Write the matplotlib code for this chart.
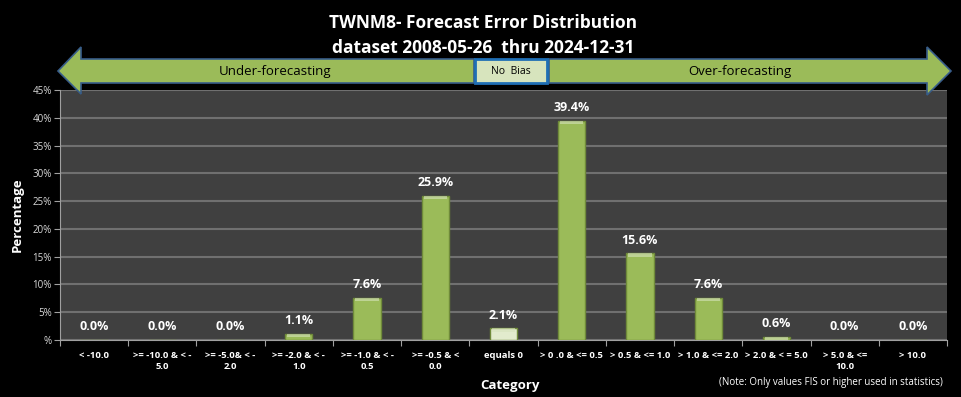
import matplotlib
matplotlib.use("Agg")
import matplotlib.pyplot as plt
from matplotlib.patches import Polygon, Rectangle

# Datos del grafico
categorias = ['< -10.0', '>= -10.0 & < -\n5.0', '>= -5.0& < -\n2.0', '>= -2.0 & < -\n1.0',
              '>= -1.0 & < -\n0.5', '>= -0.5 & <\n0.0', 'equals 0', '> 0 .0 & <= 0.5',
              '> 0.5 & <= 1.0', '> 1.0 & <= 2.0', '> 2.0 & < = 5.0', '> 5.0 & <=\n10.0', '> 10.0']
porcentajes = [0.0, 0.0, 0.0, 1.1, 7.6, 25.9, 2.1, 39.4, 15.6, 7.6, 0.6, 0.0, 0.0]
ticks_y = [0, 5, 10, 15, 20, 25, 30, 35, 40, 45]

W, H = 961, 397
plt.rcParams['font.family'] = ['Open Sans', 'DejaVu Sans']

fig = plt.figure(figsize=(W / 100, H / 100), dpi=100, facecolor='black')


def px(x, y):
    # pixeles -> coordenadas de figura
    return (x / W, 1 - y / H)


# Titulo
fig.text(*px(483, 23), 'TWNM8- Forecast Error Distribution', ha='center', va='center',
         color='white', fontsize=12.5, fontweight='bold')
fig.text(*px(483, 48), 'dataset 2008-05-26  thru 2024-12-31', ha='center', va='center',
         color='white', fontsize=12.5, fontweight='bold')

# Flechas de sesgo
verde = '#9BBB59'
borde = '#385D8A'
izq = [(474, 59), (81, 59), (81, 47), (58, 71), (81, 94), (81, 83), (474, 83)]
der = [(549, 59), (927, 59), (927, 47), (951, 71), (927, 95), (927, 83), (549, 83)]
for pts in (izq, der):
    fig.patches.append(Polygon([px(x, y) for x, y in pts], closed=True, transform=fig.transFigure,
                               facecolor=verde, edgecolor=borde, linewidth=1.2, zorder=1))
fig.patches.append(Rectangle(px(475, 83), 72 / W, 24 / H, transform=fig.transFigure,
                             facecolor='#D7E4BD', edgecolor='#1F6FB5', linewidth=2, zorder=2))
fig.text(*px(275, 72), 'Under-forecasting', ha='center', va='center', color='black', fontsize=9.5)
fig.text(*px(740, 72), 'Over-forecasting', ha='center', va='center', color='black', fontsize=9.5)
fig.text(*px(511, 71), 'No  Bias', ha='center', va='center', color='black', fontsize=7.5)

# Area del grafico
ax = fig.add_axes([60 / W, 1 - 340 / H, 887 / W, 250 / H])
ax.set_facecolor('#404040')
x = list(range(len(categorias)))
colores = [verde] * len(categorias)
colores[categorias.index('equals 0')] = '#E2EBCD'
barras = ax.bar(x, porcentajes, width=0.4, color=colores, edgecolor='#6F8A3A', linewidth=1, zorder=3)
# brillo superior tipo bisel
ax.bar(x, [min(v, 0.6) for v in porcentajes], bottom=[max(v - 0.6, 0) for v in porcentajes],
       width=0.34, color='#D7E4BD', alpha=0.6, linewidth=0, zorder=4)

for b, v in zip(barras, porcentajes):
    ax.annotate(f'{v:.1f}%', (b.get_x() + b.get_width() / 2, v), xytext=(0, 9.5),
                textcoords='offset points', ha='center', va='center', color='white',
                fontsize=9, fontweight='bold')

ax.set_xlim(-0.5, len(categorias) - 0.5)
ax.set_ylim(0, 45)
ax.set_yticks(ticks_y)
ax.set_yticklabels(['%' if t == 0 else f'{t}%' for t in ticks_y], color='#D9D9D9', fontsize=7)
ax.yaxis.grid(True, color='#707070', linewidth=1.5, zorder=0)
ax.set_axisbelow(True)

ax.set_xticks([i - 0.5 for i in range(len(categorias) + 1)])
ax.set_xticklabels([])
ax.set_xticks(x, minor=True)
ax.set_xticklabels(categorias, minor=True, color='white', fontsize=6.8, fontweight='bold')
ax.tick_params(axis='x', which='minor', length=0, pad=8)
ax.tick_params(axis='x', which='major', length=4, color='#A0A0A0')
ax.tick_params(axis='y', length=4, color='#A0A0A0', pad=2)

for lado in ('top', 'right'):
    ax.spines[lado].set_visible(False)
for lado in ('left', 'bottom'):
    ax.spines[lado].set_color('#A0A0A0')

fig.text(*px(510, 386), 'Category', ha='center', va='center', color='white', fontsize=9.5,
         fontweight='bold')
fig.text(*px(17, 215), 'Percentage', ha='center', va='center', color='white', fontsize=9.5,
         fontweight='bold', rotation=90)
fig.text(*px(831, 383), '(Note: Only values FIS or higher used in statistics)', ha='center',
         va='center', color='white', fontsize=7)

fig.savefig('out.png', dpi=100, facecolor='black')
